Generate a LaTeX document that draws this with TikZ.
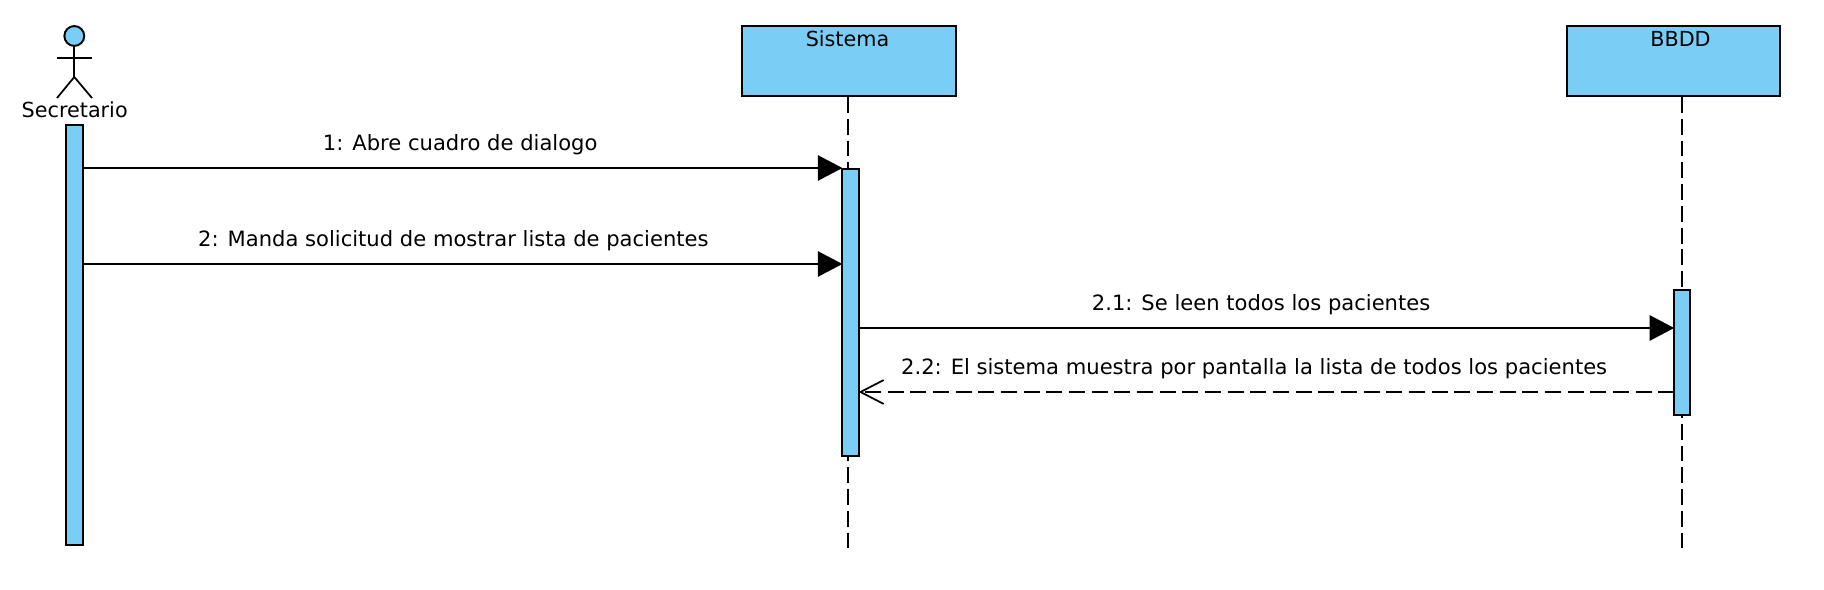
\documentclass[tikz,border=0pt]{standalone}
\usepackage{fontspec}
\setmainfont{DejaVu Sans}
\usetikzlibrary{calc, arrows.meta}
\definecolor{umlblue}{HTML}{7ACEF5}
\tikzset{
    objbox/.style={draw, fill=umlblue, line width=1.1pt, minimum width=121.7pt, minimum height=39.8pt, inner sep=0pt, outer sep=0pt},
    activbar/.style={draw, fill=umlblue, line width=1.1pt, minimum width=9.2pt, inner sep=0pt, outer sep=0pt},
    lifeline/.style={line width=1pt, dash pattern=on 9pt off 3.4pt},
    callmsg/.style={line width=1pt, -{Triangle[length=14pt, width=14.4pt]}},
    replymsg/.style={line width=1pt, dash pattern=on 9pt off 3.9pt, -{Straight Barb[length=13.2pt, width=13.6pt]}},
    nametext/.style={font=\fontsize{11.8}{14}\selectfont, inner sep=0pt, anchor=base},
    msgtext/.style={font=\fontsize{12}{14}\selectfont, inner sep=0pt, anchor=base},
}
\begin{document}
\begin{tikzpicture}[x=0.02cm, y=-0.02cm]
    \useasboundingbox (0,0) rectangle (1824,590);

    \node (Sistema) at (849.3,61.3) [objbox] {};
    \node (BBDD) at (1673.5,61.3) [objbox] {};
    \node (SistemaText) at (847.5,47) [nametext] {Sistema};
    \node (BBDDText) at (1680.5,47) [nametext] {BBDD};

    \coordinate (SistemaEnd) at (848.3,548);
    \coordinate (BBDDEnd) at (1682.3,548);
    \draw[lifeline] (848.3,97) -- (SistemaEnd);
    \draw[lifeline] (1682.3,97) -- (BBDDEnd);

    % actor
    \node (Head) at (74.3,36) [circle, draw, fill=umlblue, line width=1.1pt, minimum size=11.3pt, inner sep=0pt, outer sep=0pt] {};
    \coordinate (Hip) at (74.3,77);
    \coordinate (ArmL) at (57,58);
    \coordinate (ArmR) at (92,58);
    \coordinate (LegL) at (57,98);
    \coordinate (LegR) at (92,98);
    \draw[line width=1pt] (Head) -- (Hip);
    \draw[line width=1pt] (ArmL) -- (ArmR);
    \draw[line width=1pt] (LegL) -- (Hip) -- (LegR);
    \node (Secretario) at (74.7,118) [nametext] {Secretario};

    \node (SecretarioBar) at (74.5,335) [activbar, minimum height=239.3pt] {};
    \node (SistemaBar) at (850.5,312.3) [activbar, minimum height=163.5pt] {};
    \node (BBDDBar) at (1682.3,352.7) [activbar, minimum height=71.4pt] {};

    \coordinate (CallLevel) at (0,168);
    \coordinate (ManLevel) at (0,264);
    \coordinate (ReadLevel) at (0,328);
    \coordinate (ShowLevel) at (0,392);

    \coordinate (CallA) at (SecretarioBar.east |- CallLevel);
    \coordinate (CallB) at (SistemaBar.west |- CallLevel);
    \coordinate (ManA) at (SecretarioBar.east |- ManLevel);
    \coordinate (ManB) at (SistemaBar.west |- ManLevel);
    \coordinate (ReadA) at (SistemaBar.east |- ReadLevel);
    \coordinate (ReadB) at (BBDDBar.west |- ReadLevel);
    \coordinate (ShowA) at (BBDDBar.west |- ShowLevel);
    \coordinate (ShowB) at (SistemaBar.east |- ShowLevel);

    \draw (CallA) edge[callmsg]
            node [msgtext, pos=.497, yshift=9.9pt] {1: Abre cuadro de dialogo} (CallB);
    \draw (ManA) edge[callmsg]
            node [msgtext, pos=.488, yshift=9.9pt] {2: Manda solicitud de mostrar lista de pacientes} (ManB);
    \draw (ReadA) edge[callmsg]
            node [msgtext, pos=.4935, yshift=9.9pt] {2.1: Se leen todos los pacientes} (ReadB);
    \draw (ShowA) edge[replymsg]
            node [msgtext, pos=.515, yshift=9.9pt] {2.2: El sistema muestra por pantalla la lista de todos los pacientes} (ShowB);
\end{tikzpicture}
\end{document}
